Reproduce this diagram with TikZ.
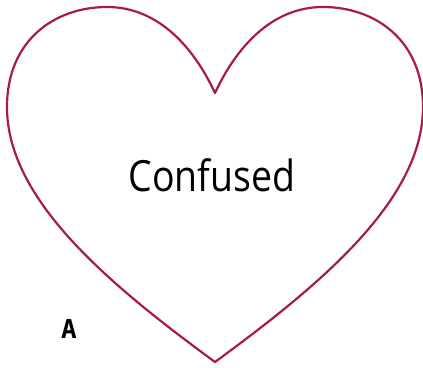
\documentclass[tikz,border=0pt]{standalone}
\usepackage{fontspec}
\setmainfont{Open Sans}[FakeStretch=0.87]
\newfontfamily\tagfont{DejaVu Sans Mono}
\usetikzlibrary{positioning}
\definecolor{HeartRed}{HTML}{A51C48}

\begin{document}
\begin{tikzpicture}[
        x=1pt, y=-1pt,
        outline/.style={draw=HeartRed, line width=2.2pt, line join=round},
        mood/.style={font=\fontsize{43}{48}\selectfont, inner sep=0pt, anchor=base},
        tag/.style={font=\tagfont\bfseries\fontsize{26}{28}\selectfont, inner sep=0pt, anchor=base}
    ]
        \useasboundingbox (0,0) rectangle (423,367);

        % heart outline
        \draw[outline] (215,362)
            .. controls (110,285) and (7,200) .. (7,107)
            .. controls (7,40) and (55,7) .. (107,7)
            .. controls (160,7) and (195,50) .. (215,93)
            .. controls (235,50) and (270,7) .. (323,7)
            .. controls (375,7) and (423,40) .. (423,107)
            .. controls (423,200) and (320,285) .. (215,362) -- cycle;

        \node[mood] (label) at (212,191) {Confused};
        \node[tag] (corner) at (69,338) {A};
    \end{tikzpicture}
\end{document}
